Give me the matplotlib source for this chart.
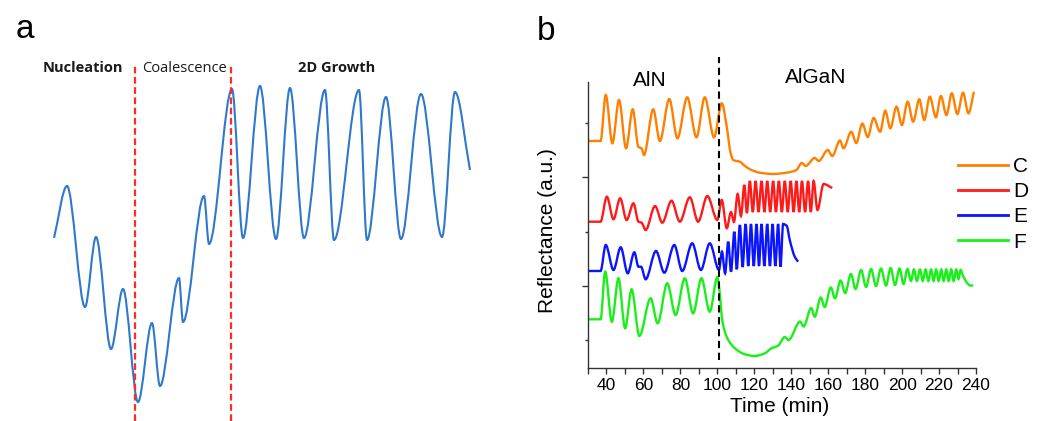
import numpy as np
import matplotlib
matplotlib.use("Agg")
import matplotlib.pyplot as plt
from matplotlib.path import Path
from matplotlib.patches import PathPatch
from matplotlib.lines import Line2D

plt.rcParams["font.family"] = ["Liberation Sans", "DejaVu Sans"]

# ---------------- panel a: schematic reflectance trace (arbitrary units) ----------------
a_time = [0, 13, 31, 42, 57, 69, 84, 98, 106, 125, 129, 150, 155, 178, 189, 206, 222,
          236, 250, 271, 280, 305, 313, 332, 347, 367, 388, 401, 416]
a_refl = [183, 235, 114, 184, 72, 132, 19, 98, 35, 143, 99, 225, 177, 332, 183, 335, 182,
          333, 183, 331, 181, 331, 181, 324, 182, 327, 184, 329, 251]
stage_bounds = [81, 177]
stage_names = ["Nucleation", "Coalescence", "2D Growth"]
stage_label_x = [29, 130.5, 283]

# ---------------- panel b: in-situ reflectance of samples C-F ----------------
c_time = [30, 36.8, 39.6, 43.2, 46.8, 50.6, 54.2, 57.3, 59.0, 60.3, 65.3, 68.9, 74.0, 78.4,
          83.7, 88.7, 93.2, 98.2, 102.4, 105.1, 107.2, 108.6, 112.2, 114.9, 118.5, 123.0,
          130.2, 137.4, 142.8, 145.7, 147.8, 152.7, 154.9, 159.8, 162.2, 166.4, 168.3,
          172.5, 175.2, 178.5, 181.4, 184.6, 188.1, 190.9, 193.6, 197.0, 199.9, 203.0,
          206.0, 209.3, 212.0, 215.0, 218.3, 221.0, 224.0, 226.9, 229.9, 233.0, 235.9, 238.9]
c_refl = [227, 227, 273, 224.7, 268, 219.7, 258.7, 221, 219.7, 213, 258.7, 227, 269, 229.7,
          270.7, 230.7, 270.7, 230.7, 264.7, 241.3, 214.7, 208, 206.3, 202, 198, 195.3,
          194, 195.3, 198, 205, 202, 210, 207, 218, 212, 227.5, 219.7,
          236.3, 225, 244.5, 231, 250, 236.3, 257.3, 239.7, 261.3, 243, 266.3,
          246.3, 268.7, 248, 271.3, 250.7, 272, 253, 274.7, 254, 275.3, 254.7, 276.3]

d_time = [30, 36.8, 40.2, 43.8, 47.4, 50.9, 54.6, 57.3, 59.0, 61.2, 66.3, 70.2, 75.2, 79.7,
          85.1, 89.6, 94.6, 100.0, 102.4, 105.1, 107.4, 109.0, 111.0, 112.8, 114.6, 116.0,
          117.6, 119.2, 120.7, 122.3, 123.9, 125.5, 127.0, 128.6, 130.2, 131.7, 133.3,
          134.9, 136.5, 138.1, 139.7, 141.3, 142.8, 144.3, 145.8, 147.5, 149.1, 150.6,
          152.1, 154.2, 157.5, 162.2]
d_refl = [146.3, 146.3, 171.3, 148.7, 169.7, 148, 164.7, 146.3, 145.3, 138, 162, 145.3, 167.3,
          146.3, 170.7, 146.3, 172, 148, 168, 139.7, 156, 146, 174, 152, 183, 155,
          187, 156, 187, 156, 187, 156, 187, 156, 187, 156, 187,
          156, 187, 156, 187, 156, 187, 156, 187, 156, 187, 156,
          187, 158, 184, 180]

e_time = [30, 36.8, 39.6, 43.8, 47.7, 51.5, 55.1, 57.3, 58.7, 61.2, 66.8, 71.3, 76.7, 81.0,
          86.4, 91.1, 95.9, 100.9, 102.5, 104.2, 105.9, 107.4, 109.2, 110.5, 112.2, 113.7,
          115.3, 116.75, 118.2, 119.7, 121.2, 122.55, 123.9, 125.45, 127.0, 128.45, 129.9,
          131.4, 132.9, 134.2, 135.6, 137.6, 139.2, 141.9, 143.7]
e_refl = [97, 97, 123, 98, 120.7, 94.7, 115.7, 101.3, 101.3, 88.7, 117, 95.3, 123, 97,
          124.7, 98, 124.7, 98, 116.3, 94.7, 126.3, 96.3, 136.3, 98.7, 143, 101,
          144, 102, 144, 102, 144, 102, 144, 102, 144, 102, 144,
          102, 144, 101.3, 144, 142, 128, 111.3, 106.3]

f_time = [30, 36.8, 39.3, 42.9, 46.5, 50.1, 53.6, 57.8, 63.9, 67.7, 72.9, 77.4, 82.4, 86.9,
          91.4, 95.9, 100.0, 101.5, 102.4, 103.8, 105.9, 109.5, 114.9, 120.3, 125.7, 129.3,
          132.9, 136.5, 138.5, 144.8, 146.7, 150.8, 152.7, 156.0, 158.1, 161.4, 163.7,
          166.7, 169.2, 172.3, 174.8, 177.8, 180.5, 183.2, 185.9, 188.6, 191.3, 193.8,
          196.2, 198.6, 200.8, 202.9, 204.8, 206.4, 208.0, 209.7, 211.2, 212.7, 214.2,
          215.7, 217.1, 218.4, 219.8, 221.2, 222.5, 223.9, 225.2, 226.6, 227.9, 229.3,
          230.5, 231.7, 232.8, 235.2, 236.8, 238.5]
f_refl = [48.7, 48.7, 96.3, 46.3, 89.7, 39.7, 78.7, 32, 69.7, 44.7, 84.7, 53, 89.7, 54.7,
          89.7, 56.3, 90.7, 71.3, 51.3, 38, 28, 19.7, 13.7, 12, 14.7, 19.7,
          22.3, 31, 28, 46.3, 41.5, 60, 51.3, 70.5, 61, 80.5, 69.7,
          87.5, 75, 94, 79, 98, 81, 99, 82, 99.5, 82.5, 100,
          83, 99.5, 84, 99, 87, 98.5, 87, 98.5, 87, 98.5, 87,
          98.5, 87, 98.5, 87, 98.5, 87, 98.5, 87, 98.5, 87, 98.5,
          89, 98, 93, 85, 82.5, 82.5]

sample_names = ["C", "D", "E", "F"]
sample_colors = ["#FF8000", "#FF1A1A", "#0A14FF", "#19F019"]
layer_switch = 101
x_ticks = list(range(40, 241, 20))


def smooth_path(t, y):
    """Shape-preserving cubic (PCHIP-style) Bezier path through the given points."""
    t = np.asarray(t, float)
    y = np.asarray(y, float)
    h = np.diff(t)
    d = np.diff(y) / h
    m = np.zeros_like(y)
    for k in range(1, len(y) - 1):
        if d[k - 1] * d[k] > 0:
            w1 = 2 * h[k] + h[k - 1]
            w2 = h[k] + 2 * h[k - 1]
            m[k] = (w1 + w2) / (w1 / d[k - 1] + w2 / d[k])
    m[0] = d[0]
    m[-1] = d[-1]
    verts = [(t[0], y[0])]
    codes = [Path.MOVETO]
    for k in range(len(t) - 1):
        verts += [(t[k] + h[k] / 3, y[k] + m[k] * h[k] / 3),
                  (t[k + 1] - h[k] / 3, y[k + 1] - m[k + 1] * h[k] / 3),
                  (t[k + 1], y[k + 1])]
        codes += [Path.CURVE4] * 3
    return Path(verts, codes)


W, H = 1038, 421
fig = plt.figure(figsize=(W / 100, H / 100), dpi=100)

# ---------------- panel a ----------------
ax_a = fig.add_axes([54 / W, 0, 416 / W, 1])
ax_a.set_xlim(0, 416)
ax_a.set_ylim(0, 421)
ax_a.axis("off")
ax_a.add_patch(PathPatch(smooth_path(a_time, a_refl), fc="none", ec="#2F78CC",
                         lw=1.5, clip_on=False))
for xb in stage_bounds:
    ax_a.plot([xb, xb], [0, 354], color="#FF2A2A", lw=1.6, ls=(0, (3, 1.6)), clip_on=False)
for name, xl, wt in zip(stage_names, stage_label_x, ["bold", "normal", "bold"]):
    ax_a.text(xl, 353, name, ha="center", va="center", fontsize=10.5, fontweight=wt,
              family=["Open Sans", "DejaVu Sans"], color="#1a1a1a")

# ---------------- panel b ----------------
ax_b = fig.add_axes([588 / W, 53 / H, 388 / W, 286 / H])
for t, r, col in zip([c_time, d_time, e_time, f_time],
                     [c_refl, d_refl, e_refl, f_refl], sample_colors):
    ax_b.add_patch(PathPatch(smooth_path(t, r), fc="none", ec=col, lw=1.7))
ax_b.set_xlim(30, 240)
ax_b.set_ylim(0, 286)
ax_b.plot([layer_switch, layer_switch], [8, 311], color="black", lw=1.5,
          ls=(0, (3.5, 2.2)), clip_on=False)

ax_b.spines["top"].set_visible(False)
ax_b.spines["right"].set_visible(False)
for s in ["left", "bottom"]:
    ax_b.spines[s].set_linewidth(1.0)
    ax_b.spines[s].set_color("#333333")

ax_b.set_xticks(x_ticks)
ax_b.set_xticks(range(30, 241, 10), minor=True)
ax_b.set_yticks([82, 191])
ax_b.set_yticks([28, 136, 245], minor=True)
ax_b.set_yticklabels([])
ax_b.tick_params(axis="x", which="both", direction="out", length=4, width=1,
                 color="#333333", labelsize=12.5, pad=3)
ax_b.tick_params(axis="y", which="major", direction="out", length=4.2, width=1, color="#333333")
ax_b.tick_params(axis="y", which="minor", direction="out", length=2.2, width=1, color="#333333")

ax_b.set_xlabel("Time (min)", fontsize=15)
ax_b.xaxis.set_label_coords(0.495, -0.10)
ax_b.set_ylabel("Reflectance (a.u.)", fontsize=15)
ax_b.yaxis.set_label_coords(-0.08, 0.479)

fig.text(650 / W, 1 - 86 / H, "AlN", ha="center", va="baseline", fontsize=15)
fig.text(816 / W, 1 - 83 / H, "AlGaN", ha="center", va="baseline", fontsize=15)

handles = [Line2D([], [], color=c, lw=2, label=n) for n, c in zip(sample_names, sample_colors)]
fig.legend(handles=handles, loc="upper left", bbox_to_anchor=(958 / W, 1 - 157 / H),
           frameon=False, fontsize=15, handlelength=2.4, handletextpad=0.25,
           labelspacing=0.3, borderpad=0, borderaxespad=0)

fig.text(16 / W, 1 - 38 / H, "a", fontsize=24, va="baseline", ha="left")
fig.text(537 / W, 1 - 40 / H, "b", fontsize=24, va="baseline", ha="left")

fig.savefig("out.png", dpi=100)
